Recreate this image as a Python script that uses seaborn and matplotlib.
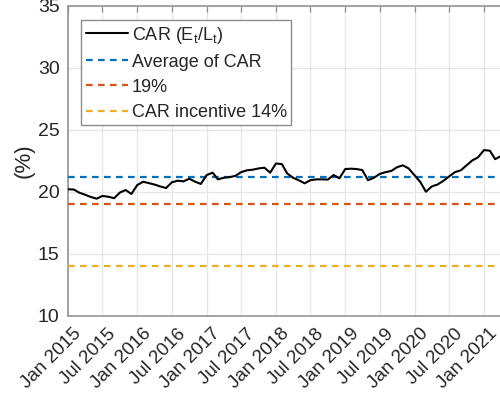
import matplotlib
matplotlib.use("Agg")
import matplotlib.pyplot as plt
import matplotlib.dates as mdates
import matplotlib.transforms as mtransforms
import numpy as np
import pandas as pd
import seaborn as sns

# Monthly capital adequacy ratio (%), starting January 2015
car_values = [
    20.22, 20.20, 19.95, 19.78, 19.60, 19.46, 19.68, 19.62, 19.50, 19.95,
    20.16, 19.84, 20.56, 20.83, 20.72, 20.60, 20.45, 20.32, 20.78, 20.91,
    20.86, 21.07, 20.83, 20.65, 21.37, 21.56, 21.02, 21.15, 21.20, 21.30,
    21.60, 21.75, 21.80, 21.90, 21.96, 21.56, 22.30, 22.25, 21.50, 21.15,
    20.95, 20.70, 20.95, 21.02, 21.02, 21.00, 21.37, 21.10, 21.85, 21.88,
    21.85, 21.77, 20.95, 21.15, 21.45, 21.60, 21.70, 22.00, 22.15, 21.90,
    21.35, 20.80, 20.02, 20.45, 20.60, 20.90, 21.25, 21.60, 21.75, 22.15,
    22.55, 22.80, 23.38, 23.33, 22.65, 22.90, 23.10,
]
car_dates = pd.date_range("2015-01-01", periods=len(car_values), freq="MS")

car_average = 21.2
threshold_19 = 19.0
incentive_14 = 14.0

series_labels = [r"CAR (E$_\mathrm{t}$/L$_\mathrm{t}$)", "Average of CAR", "19%", "CAR incentive 14%"]
tick_dates = pd.date_range("2015-01-01", "2021-01-01", freq="6MS")
y_ticks = [10, 15, 20, 25, 30, 35]

sns.set_style("white")
plt.rcParams["font.family"] = ["Liberation Sans", "DejaVu Sans"]
plt.rcParams["mathtext.fontset"] = "custom"
plt.rcParams["mathtext.rm"] = "Liberation Sans"
plt.rcParams["mathtext.it"] = "Liberation Sans:italic"

df = pd.DataFrame({"date": car_dates, "car": car_values})

fig = plt.figure(figsize=(5.0, 4.05), dpi=100)
W, H = 500, 405
ax_left, ax_top, ax_bottom, ax_right = 68, 6, 316, 509.4
ax = fig.add_axes([ax_left / W, 1 - ax_bottom / H, (ax_right - ax_left) / W, (ax_bottom - ax_top) / H])

blue = "#0072BD"
orange = "#D95319"
yellow = "#EDB120"
dash = (3.0, 2.4)

sns.lineplot(data=df, x="date", y="car", ax=ax, color="black", linewidth=1.5,
             label=series_labels[0], zorder=5)
ax.axhline(car_average, color=blue, linewidth=1.6, linestyle=(0, dash), label=series_labels[1], zorder=4)
ax.axhline(threshold_19, color=orange, linewidth=1.6, linestyle=(0, dash), label=series_labels[2], zorder=4)
ax.axhline(incentive_14, color=yellow, linewidth=1.6, linestyle=(0, dash), label=series_labels[3], zorder=4)

ax.set_xlim(pd.Timestamp("2015-01-01"), pd.Timestamp("2021-05-15"))
ax.set_ylim(10, 35)
ax.set_yticks(y_ticks)
ax.set_xticks(tick_dates)
ax.xaxis.set_major_formatter(mdates.DateFormatter("%b %Y"))

ax.grid(True, color="#e6e6e6", linewidth=0.9)
ax.set_axisbelow(True)

spine_color = "#8c8c8c"
for s in ax.spines.values():
    s.set_visible(True)
    s.set_color(spine_color)
    s.set_linewidth(1.1)

ax.tick_params(axis="both", direction="in", length=4, width=0.9, color=spine_color,
               labelcolor="#262626", top=True, right=True)
ax.tick_params(axis="y", pad=6, labelsize=14)
ax.tick_params(axis="x", pad=11, labelsize=13.5)

offset = mtransforms.ScaledTranslation(11 / 100, 0, fig.dpi_scale_trans)
for lbl in ax.get_xticklabels():
    lbl.set_rotation(45)
    lbl.set_ha("right")
    lbl.set_va("center")
    lbl.set_rotation_mode("anchor")
    lbl.set_transform(lbl.get_transform() + offset)

ax.set_xlabel("")
ax.set_ylabel("(%)", fontsize=16, color="#262626")
ax.yaxis.set_label_coords((35 - ax_left) / (ax_right - ax_left), 0.5)

leg = ax.legend(loc="upper left", bbox_to_anchor=(81 / W, 1 - 20 / H), bbox_transform=fig.transFigure,
                borderaxespad=0, fontsize=13, frameon=True, fancybox=False, framealpha=1,
                edgecolor="#8c8c8c", borderpad=0.25, labelspacing=0.45, handletextpad=0.2,
                handlelength=2.35)
leg.get_frame().set_linewidth(1.0)
for t in leg.get_texts():
    t.set_color("#262626")

fig.savefig("out.png", dpi=100)
